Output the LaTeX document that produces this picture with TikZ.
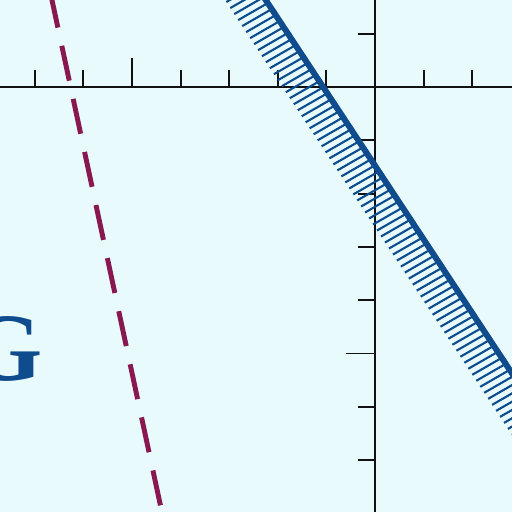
\documentclass[tikz,border=0pt]{standalone}
\usepackage{fontspec}
\setmainfont{Liberation Serif}
\usetikzlibrary{positioning,calc}
\definecolor{bgPlot}{HTML}{E8FAFC}
\definecolor{axisInk}{HTML}{111111}
\definecolor{boundBlue}{HTML}{0E4C8E}
\definecolor{guideMaroon}{HTML}{8A1850}

\begin{document}
\begin{tikzpicture}[
          x=0.02cm,y=-0.02cm,
          axis/.style={draw=axisInk,line width=1.1pt},
          tick/.style={draw=axisInk,line width=1.1pt},
          bound/.style={draw=boundBlue,line width=3.4pt},
          hatch/.style={draw=boundBlue,line width=1.2pt},
          guide/.style={draw=guideMaroon,line width=2.8pt,
                        dash pattern=on 20.3pt off 10.6pt},
          letter/.style={text=boundBlue,inner sep=0pt,
                         font=\fontsize{55pt}{55pt}\selectfont\bfseries},
        ]
        \fill[bgPlot] (0,0) rectangle (512,512);
        \useasboundingbox (0,0) rectangle (512,512);
        \clip (0,0) rectangle (512,512);
        % axes
        \coordinate (origin) at (375,87);
        \draw[axis] (0,87) -- (512,87);
        \draw[axis] (375,0) -- (375,512);
        \foreach \k in {-7,-6,-4,-3,-2,-1,1,2}
          \draw[tick] ($(origin)+(48.6*\k,0)$) -- ++(0,-17);
        \draw[tick] ($(origin)+(-243,0)$) -- ++(0,-29);
        \foreach \k in {-1,1,2,3,4,6,7,8}
          \draw[tick] ($(origin)+(0,53.3*\k)$) -- ++(-17,0);
        \draw[tick] ($(origin)+(0,266.5)$) -- ++(-29,0);
        % hatched boundary
        \coordinate (bTop) at (244,-33);
        \coordinate (bEnd) at (552,434);
        \foreach \t in {0,7.2,...,560}
          \draw[hatch] ({244+\t*0.551},{-33+\t*0.835}) -- ++(-29.6,17);
        \draw[bound] (bTop) -- (bEnd);
        % dashed guide
        \coordinate (gTop) at (50.4,-7.3);
        \coordinate (gEnd) at (164,522);
        \draw[guide] (gTop) -- (gEnd);
        \node[letter,anchor=base east] (gLabel) at (43,380) {G};
      \end{tikzpicture}
\end{document}
